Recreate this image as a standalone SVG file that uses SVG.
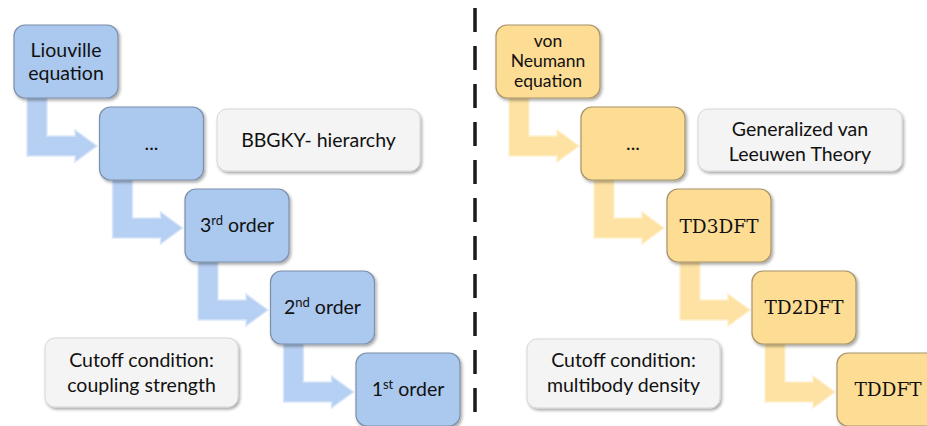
<svg xmlns="http://www.w3.org/2000/svg" xmlns:xlink="http://www.w3.org/1999/xlink" width="927" height="426" viewBox="0 0 927 426">
<defs>
<filter id="sh" x="-10%" y="-10%" width="125%" height="130%">
<feDropShadow dx="1.5" dy="2" stdDeviation="1.6" flood-color="#000" flood-opacity="0.35"/>
</filter>
<path id="bent" d="M13,68 L33,68 L33,111 L61,111 L61,105 L83,121 L61,137 L61,131 L13,131 Z"/>
<style>
.bn{fill:#abc8ef;stroke:#7d90ab;stroke-width:1.2;filter:url(#sh)}
.yn{fill:#fddc94;stroke:#a8946a;stroke-width:1.2;filter:url(#sh)}
.gn{fill:#f4f4f4;stroke:#d6d6d6;stroke-width:1;filter:url(#sh)}
.ba{fill:#b6d0f3;stroke:#d9e6f9;stroke-width:1.5}
.ya{fill:#fee2a3;stroke:#fff0cc;stroke-width:1.5}
.t{font-family:Lato,"Open Sans",sans-serif;font-size:19.5px;fill:#111;text-anchor:middle}
.tv{font-family:Lato,"Open Sans",sans-serif;font-size:17.5px;fill:#111;text-anchor:middle}
.s{font-family:"DejaVu Serif","Liberation Serif",serif;font-size:18.5px;fill:#111;text-anchor:middle}
.sup{font-size:13px}
.dash{stroke:#1a1a1a;stroke-width:3.5;stroke-dasharray:24 14;fill:none}
</style>
</defs>

<g id="connectors">
<use xlink:href="#bent" href="#bent" class="ba" transform="translate(14,25)"/>
<use xlink:href="#bent" href="#bent" class="ba" transform="translate(99.5,107)"/>
<use xlink:href="#bent" href="#bent" class="ba" transform="translate(185,189)"/>
<use xlink:href="#bent" href="#bent" class="ba" transform="translate(270.5,271)"/>
<use xlink:href="#bent" href="#bent" class="ya" transform="translate(496,25)"/>
<use xlink:href="#bent" href="#bent" class="ya" transform="translate(581,107)"/>
<use xlink:href="#bent" href="#bent" class="ya" transform="translate(667,189)"/>
<use xlink:href="#bent" href="#bent" class="ya" transform="translate(752,271)"/>
</g>

<line id="divider" class="dash" x1="475" y1="8" x2="475" y2="422"/>

<g id="liouville">
<rect class="bn" x="14" y="25" width="104" height="73" rx="11"/>
<text class="t" x="66" y="57">Liouville</text>
<text class="t" x="66" y="80">equation</text>
</g>
<g id="dots-left">
<rect class="bn" x="99.5" y="107" width="104" height="73" rx="11"/>
<text class="t" x="151.5" y="150">...</text>
</g>
<g id="third-order">
<rect class="bn" x="185" y="189" width="104" height="73" rx="11"/>
<text class="t" x="237" y="232">3<tspan class="sup" dy="-7">rd</tspan><tspan dy="7"> order</tspan></text>
</g>
<g id="second-order">
<rect class="bn" x="270.5" y="271" width="104" height="73" rx="11"/>
<text class="t" x="322.5" y="314">2<tspan class="sup" dy="-7">nd</tspan><tspan dy="7"> order</tspan></text>
</g>
<g id="first-order">
<rect class="bn" x="356" y="353" width="104" height="73" rx="11"/>
<text class="t" x="408" y="396">1<tspan class="sup" dy="-7">st</tspan><tspan dy="7"> order</tspan></text>
</g>
<g id="bbgky">
<rect class="gn" x="217" y="109" width="203" height="62" rx="10"/>
<text class="t" x="318.5" y="147">BBGKY- hierarchy</text>
</g>
<g id="cutoff-left">
<rect class="gn" x="45" y="338" width="193" height="69" rx="10"/>
<text class="t" x="141.5" y="367">Cutoff condition:</text>
<text class="t" x="141.5" y="392">coupling strength</text>
</g>

<g id="von-neumann">
<rect class="yn" x="496" y="25" width="104" height="73" rx="11"/>
<text class="tv" x="548" y="47">von</text>
<text class="tv" x="548" y="67">Neumann</text>
<text class="tv" x="548" y="87">equation</text>
</g>
<g id="dots-right">
<rect class="yn" x="581" y="107" width="104" height="73" rx="11"/>
<text class="t" x="633" y="150">...</text>
</g>
<g id="td3dft">
<rect class="yn" x="667" y="189" width="104" height="73" rx="11"/>
<text class="s" x="719" y="233">TD3DFT</text>
</g>
<g id="td2dft">
<rect class="yn" x="752" y="271" width="104" height="73" rx="11"/>
<text class="s" x="804" y="314">TD2DFT</text>
</g>
<g id="tddft">
<rect class="yn" x="837" y="353" width="104" height="73" rx="11"/>
<text class="s" x="888" y="396">TDDFT</text>
</g>
<g id="van-leeuwen">
<rect class="gn" x="698" y="109" width="204" height="62" rx="10"/>
<text class="t" x="800" y="136">Generalized van</text>
<text class="t" x="800" y="161">Leeuwen Theory</text>
</g>
<g id="cutoff-right">
<rect class="gn" x="527" y="339" width="193" height="69" rx="10"/>
<text class="t" x="623.5" y="367">Cutoff condition:</text>
<text class="t" x="623.5" y="392">multibody density</text>
</g>
</svg>
